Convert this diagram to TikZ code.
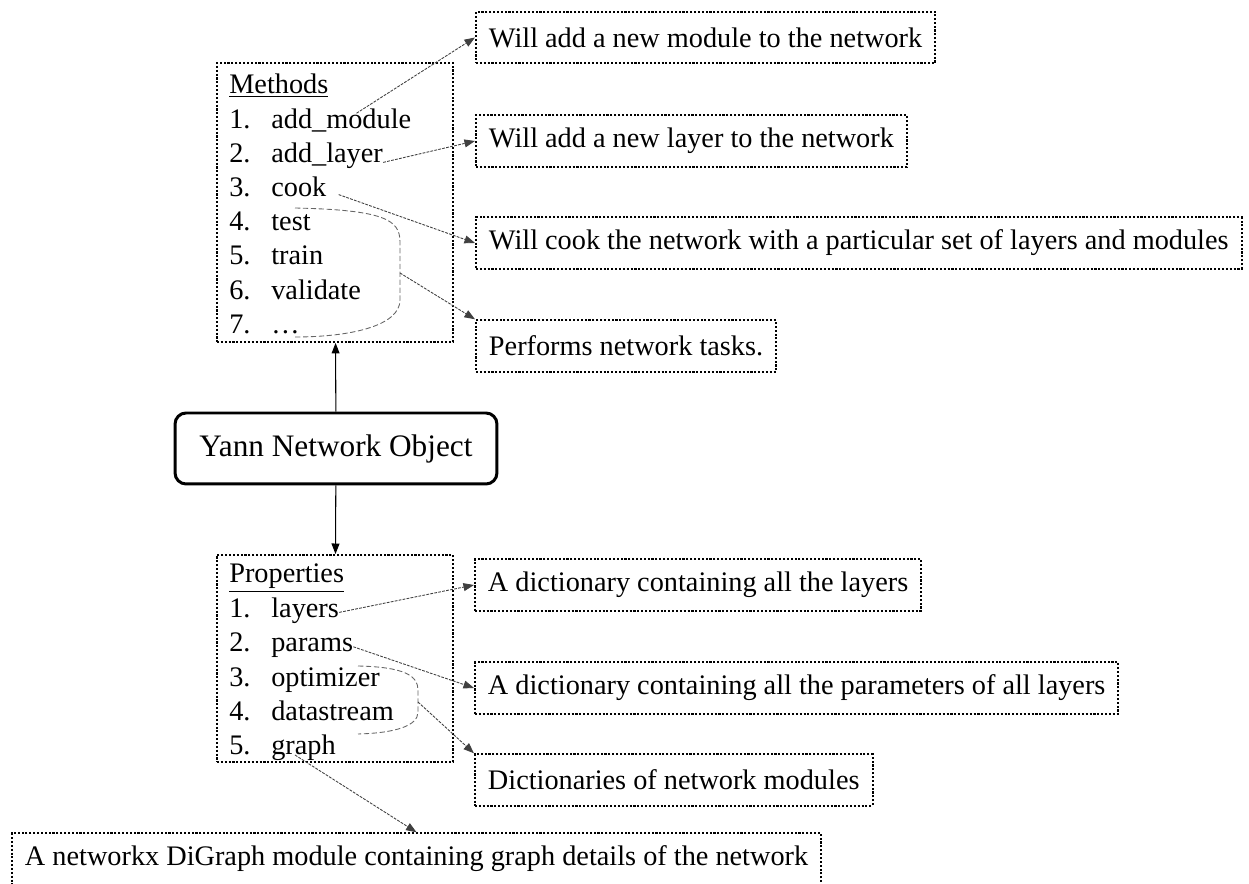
\documentclass[tikz,border=0pt]{standalone}
\usepackage{fontspec}
\setmainfont{Liberation Serif}
\usetikzlibrary{arrows.meta, positioning}
\tikzset{
    listbox/.style={draw, rectangle, line width=1.1pt, dash pattern=on 1.2pt off 1pt, minimum width=4.72cm},
    descbox/.style={draw, rectangle, line width=1.1pt, dash pattern=on 1.2pt off 1pt, anchor=west,
        minimum height=1.03cm, inner xsep=0.26cm, font=\fontsize{16.1}{19.4}\selectfont},
    listitem/.style={anchor=base west, inner sep=0pt, font=\fontsize{16.1}{19.4}\selectfont},
    objnode/.style={draw, rounded corners=0.22cm, line width=1.7pt, minimum width=6.44cm,
        minimum height=1.42cm, font=\fontsize{17.8}{21}\selectfont},
    noteline/.style={draw=black!75, line width=0.5pt, dash pattern=on 1.6pt off 0.7pt,
        -{Triangle[length=6pt,width=4.5pt]}},
    groupline/.style={draw=black!60, line width=0.5pt, dash pattern=on 3pt off 1.5pt},
    mainline/.style={draw, line width=0.6pt, -{Triangle[length=6pt,width=4.5pt]}}
}
\begin{document}
\begin{tikzpicture}[x=0.02cm, y=-0.02cm]
    \useasboundingbox (0,0) rectangle (1249,884);

    % central object
    \node[objnode] (obj) at (336,448.5) {Yann Network Object};

    % methods list
    \node[listbox, minimum height=5.58cm] (methods) at (335,202.5) {};
    \node[listitem] (mtitle) at (229,94) {\underline{Methods}};
    \foreach \nm/\txt [count=\i] in {madd/add\_module, mlayer/add\_layer, mcook/cook,
        mtest/test, mtrain/train, mvalid/validate, mmore/\ldots}
        \node[listitem] (\nm) at (229,94+34.2*\i) {\makebox[0.84cm][l]{\i.}\txt};

    % properties list
    \node[listbox, minimum height=4.14cm] (props) at (335,658.5) {};
    \node[listitem] (ptitle) at (229,583) {\underline{Properties}};
    \foreach \nm/\txt [count=\i] in {players/layers, pparams/params, popt/optimizer,
        pdata/datastream, pgraph/graph}
        \node[listitem] (\nm) at (229,583+34.4*\i) {\makebox[0.84cm][l]{\i.}\txt};

    % descriptions
    \node[descbox] (dmodule) at (475,37.5) {Will add a new module to the network};
    \node[descbox] (dlayer) at (475,141) {Will add a new layer to the network};
    \node[descbox] (dcook) at (475,243) {Will cook the network with a particular set of layers and modules};
    \node[descbox] (dtasks) at (475,346) {Performs network tasks.};
    \node[descbox] (dlayers) at (474,585) {A dictionary containing all the layers};
    \node[descbox] (dparams) at (474,688) {A dictionary containing all the parameters of all layers};
    \node[descbox] (dmodules) at (474,780) {Dictionaries of network modules};
    \node[descbox] (dgraph) at (11,859) {A networkx DiGraph module containing graph details of the network};

    % groups
    \draw[groupline] (295,208) .. controls (385,210) and (400,220) .. (400,242) -- (400,300)
        .. controls (400,326) and (350,337) .. (295,337);
    \coordinate (mgroup) at (400,273);
    \draw[groupline] (358,666) .. controls (405,667) and (418,676) .. (418,690) -- (418,712)
        .. controls (418,726) and (395,733) .. (358,734);
    \coordinate (pgroup) at (418,702);

    % connectors
    \draw[mainline] (obj) -- (methods);
    \draw[mainline] (obj) -- (props);
    \draw[noteline] ([xshift=-1.1cm,yshift=-0.1cm]madd.north east) -- (dmodule.west);
    \draw[noteline] (mlayer.base east) -- (dlayer.west);
    \draw[noteline] ([xshift=0.24cm,yshift=0.04cm]mcook.base east) -- (dcook.west);
    \draw[noteline] (mgroup) -- (dtasks.north west);
    \draw[noteline] ([yshift=0.1cm]players.base east) -- (dlayers.west);
    \draw[noteline] ([yshift=0.1cm]pparams.base east) -- (dparams.west);
    \draw[noteline] (pgroup) -- (dmodules.north west);
    \draw[noteline] ([xshift=1.32cm]pgraph.base west) -- (dgraph.north);
\end{tikzpicture}
\end{document}
